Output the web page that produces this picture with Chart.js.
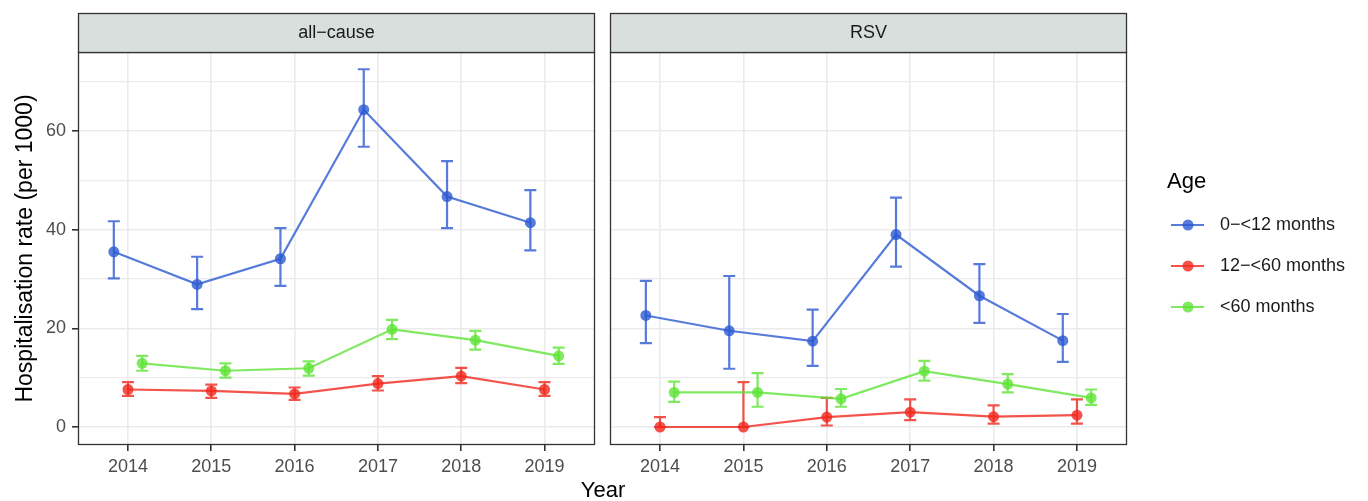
<!DOCTYPE html>
<html>
<head>
<meta charset="utf-8">
<script src="https://cdn.jsdelivr.net/npm/chart.js@4.4.1/dist/chart.umd.min.js"></script>
<style>
  html, body { margin: 0; padding: 0; background: #fff; }
  #wrap { position: relative; width: 1368px; height: 501px; overflow: hidden; font-family: "Liberation Sans", Arial, sans-serif; }
  #c1 { position: absolute; left: 0; top: 0; }
  #c2 { position: absolute; left: 600px; top: 0; }
  #xtitle { position: absolute; left: 503px; width: 200px; top: 477px; text-align: center; font-size: 22px; color: #000; }
</style>
</head>
<body>
<div id="wrap">
  <canvas id="c1" width="600" height="501"></canvas>
  <canvas id="c2" width="768" height="501"></canvas>
  <div id="xtitle">Year</div>
</div>
<script>
// data
const years = [2014, 2015, 2016, 2017, 2018, 2019];
const ageGroups = ['0\u2212<12 months', '12\u2212<60 months', '<60 months'];
const panelTitles = ['all\u2212cause', 'RSV'];
const yTicks = [0, 20, 40, 60];
const yMinor = [10, 30, 50, 70];

// all-cause
const allInfant   = [35.5, 28.9, 34.1, 64.3, 46.7, 41.4];
const allInfantLo = [30.1, 23.9, 28.6, 56.8, 40.3, 35.8];
const allInfantHi = [41.7, 34.5, 40.3, 72.5, 53.9, 48.0];
const allChild    = [7.6, 7.3, 6.7, 8.8, 10.3, 7.6];
const allChildLo  = [6.3, 5.9, 5.5, 7.4, 8.9, 6.3];
const allChildHi  = [9.1, 8.6, 8.0, 10.3, 12.0, 9.1];
const allUnder5   = [12.9, 11.4, 11.9, 19.8, 17.6, 14.4];
const allUnder5Lo = [11.4, 10.0, 10.4, 17.8, 15.7, 12.8];
const allUnder5Hi = [14.4, 12.9, 13.3, 21.7, 19.5, 16.1];

// RSV
const rsvInfant   = [22.6, 19.5, 17.4, 39.0, 26.6, 17.5];
const rsvInfantLo = [17.0, 11.8, 12.4, 32.5, 21.1, 13.2];
const rsvInfantHi = [29.6, 30.6, 23.8, 46.5, 33.0, 22.9];
const rsvChild    = [0, 0, 2.0, 3.0, 2.1, 2.4];
const rsvChildLo  = [0, 0, 0.3, 1.4, 0.7, 0.7];
const rsvChildHi  = [2.0, 9.1, 5.9, 5.6, 4.4, 5.6];
const rsvUnder5   = [7.0, 7.0, 5.7, 11.3, 8.7, 5.9];
const rsvUnder5Lo = [5.1, 4.1, 4.1, 9.4, 7.0, 4.5];
const rsvUnder5Hi = [9.2, 10.9, 7.7, 13.4, 10.7, 7.6];

const colors = ['rgba(45,90,210,0.8)', 'rgba(240,40,30,0.8)', 'rgba(95,228,55,0.8)'];
const dodge = [-0.17, 0, 0.17];
const FONT = '"Liberation Sans", Arial, sans-serif';

function makeData(series) {
    return series.map((s, i) => ({
        label: ageGroups[i],
        data: years.map((yr, j) => ({ x: yr + dodge[i], y: s[0][j], lo: s[1][j], hi: s[2][j] })),
        showLine: true,
        borderColor: colors[i],
        backgroundColor: colors[i],
        borderWidth: 2.2,
        pointRadius: 5.5,
        pointBorderWidth: 0,
        tension: 0
    }));
}

// error bars, drawn under the points
const errorBars = {
    id: 'errorBars',
    beforeDatasetsDraw(chart) {
        const { ctx, scales: { x, y } } = chart;
        ctx.save();
        chart.data.datasets.forEach(ds => {
            ctx.strokeStyle = ds.borderColor;
            ctx.lineWidth = 2.2;
            ds.data.forEach(p => {
                const px = x.getPixelForValue(p.x);
                const lo = y.getPixelForValue(p.lo);
                const hi = y.getPixelForValue(p.hi);
                ctx.beginPath();
                ctx.moveTo(px, lo); ctx.lineTo(px, hi);
                ctx.moveTo(px - 6, lo); ctx.lineTo(px + 6, lo);
                ctx.moveTo(px - 6, hi); ctx.lineTo(px + 6, hi);
                ctx.stroke();
            });
        });
        ctx.restore();
    }
};

// panel border and facet strip
const facet = {
    id: 'facet',
    afterDraw(chart, args, opts) {
        const { ctx, chartArea: a } = chart;
        const l = Math.round(a.left) + 0.5, r = Math.round(a.right) - 0.5;
        const t = Math.round(a.top) + 0.5, b = Math.round(a.bottom) - 0.5;
        ctx.save();
        ctx.strokeStyle = '#333333';
        ctx.lineWidth = 1.3;
        ctx.strokeRect(l, t, r - l, b - t);
        ctx.fillStyle = '#d8dfdd';
        ctx.fillRect(l, 13.5, r - l, t - 13.5);
        ctx.strokeRect(l, 13.5, r - l, t - 13.5);
        ctx.fillStyle = '#1a1a1a';
        ctx.font = '18px ' + FONT;
        ctx.textAlign = 'center';
        ctx.textBaseline = 'middle';
        ctx.fillText(opts.title, (l + r) / 2, 33);
        ctx.restore();
    }
};

// ggplot-style legend at the right
const ageLegend = {
    id: 'ageLegend',
    afterDraw(chart, args, opts) {
        if (!opts.show) return;
        const { ctx } = chart;
        const x0 = opts.x;
        ctx.save();
        ctx.fillStyle = '#000';
        ctx.font = '22px ' + FONT;
        ctx.textBaseline = 'middle';
        ctx.fillText('Age', x0 - 4, 182);
        ctx.font = '18px ' + FONT;
        chart.data.datasets.forEach((ds, i) => {
            const yy = 225 + i * 41;
            ctx.strokeStyle = ds.borderColor;
            ctx.lineWidth = 2.2;
            ctx.beginPath();
            ctx.moveTo(x0, yy); ctx.lineTo(x0 + 33, yy);
            ctx.stroke();
            ctx.fillStyle = ds.backgroundColor;
            ctx.beginPath();
            ctx.arc(x0 + 17, yy, 5.5, 0, Math.PI * 2);
            ctx.fill();
            ctx.fillStyle = '#1a1a1a';
            ctx.fillText(ds.label, x0 + 49, yy);
        });
        ctx.restore();
    }
};

function makePanel(id, title, series, first) {
    return new Chart(document.getElementById(id), {
        type: 'scatter',
        data: { datasets: makeData(series) },
        options: {
            responsive: false,
            animation: false,
            layout: { padding: first ? { left: 0, right: 4, top: 52, bottom: 0 } : { left: 10, right: 241, top: 52, bottom: 0 } },
            plugins: {
                legend: { display: false },
                tooltip: { enabled: false },
                facet: { title: title },
                ageLegend: { show: !first, x: 571 }
            },
            scales: {
                x: {
                    type: 'linear',
                    min: 2013.4,
                    max: 2019.6,
                    afterBuildTicks: s => { s.ticks = years.map(v => ({ value: v })); },
                    afterFit: s => { s.height = 56; },
                    border: { display: false },
                    grid: { color: '#ebebeb', lineWidth: 1.6, tickColor: '#333333', tickLength: 6, drawTicks: true },
                    ticks: { color: '#4d4d4d', font: { size: 18, family: FONT }, padding: 5, callback: v => String(v) }
                },
                y: {
                    min: -3.65,
                    max: 76,
                    afterBuildTicks: s => { s.ticks = yTicks.concat(yMinor).sort((a, b) => a - b).map(v => ({ value: v })); },
                    afterFit: s => { s.width = first ? 78 : 0; },
                    border: { display: false },
                    grid: {
                        color: '#ebebeb',
                        lineWidth: c => (yTicks.includes(c.tick && c.tick.value) ? 1.6 : 1.2),
                        tickColor: c => (yTicks.includes(c.tick && c.tick.value) ? '#333333' : 'rgba(0,0,0,0)'),
                        tickLength: 6,
                        drawTicks: first
                    },
                    ticks: {
                        display: first,
                        color: '#4d4d4d',
                        font: { size: 18, family: FONT },
                        padding: 6,
                        callback: v => (yTicks.includes(v) ? String(v) : '')
                    },
                    title: {
                        display: first,
                        text: 'Hospitalisation rate (per 1000)',
                        color: '#000',
                        font: { size: 23, family: FONT },
                        padding: { top: 12, bottom: 0 }
                    }
                }
            }
        },
        plugins: [errorBars, facet, ageLegend]
    });
}

makePanel('c1', panelTitles[0], [
    [allInfant, allInfantLo, allInfantHi],
    [allChild, allChildLo, allChildHi],
    [allUnder5, allUnder5Lo, allUnder5Hi]
], true);

makePanel('c2', panelTitles[1], [
    [rsvInfant, rsvInfantLo, rsvInfantHi],
    [rsvChild, rsvChildLo, rsvChildHi],
    [rsvUnder5, rsvUnder5Lo, rsvUnder5Hi]
], false);
</script>
</body>
</html>
